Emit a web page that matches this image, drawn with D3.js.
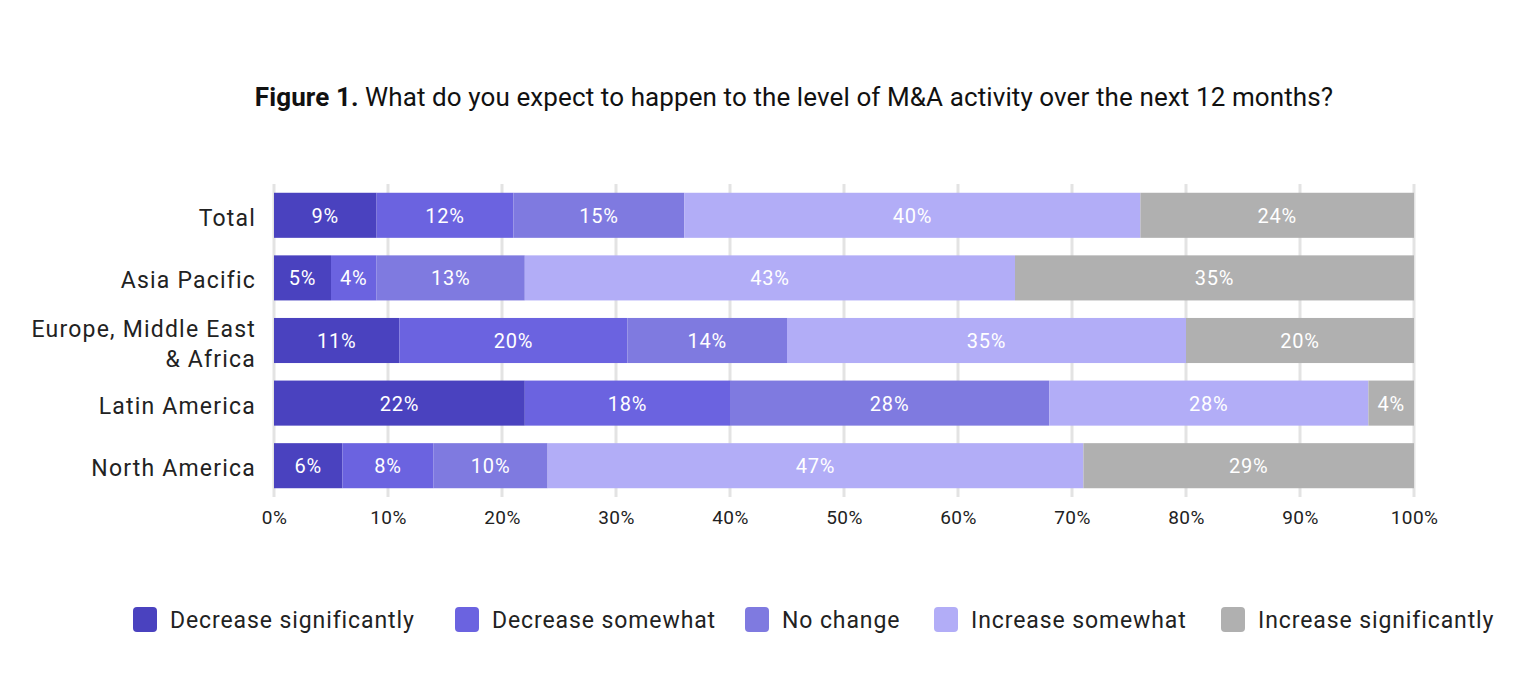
<!DOCTYPE html>
<html><head><meta charset="utf-8">
<script src="https://cdn.jsdelivr.net/npm/d3@7"></script>
<style>
body{margin:0;background:#fff;}
text{font-family:Roboto, "Noto Sans", sans-serif;}
</style></head>
<body><svg id="c" width="1518" height="695"></svg>
<script>
const categories = ["Total","Asia Pacific","Europe, Middle East & Africa","Latin America","North America"];
const seriesNames = ["Decrease significantly","Decrease somewhat","No change","Increase somewhat","Increase significantly"];
const decreaseSignificantly = [9,5,11,22,6];
const decreaseSomewhat = [12,4,20,18,8];
const noChange = [15,13,14,28,10];
const increaseSomewhat = [40,43,35,28,47];
const increaseSignificantly = [24,35,20,4,29];
const tickValues = [0,10,20,30,40,50,60,70,80,90,100];
const colors = ["#4a42bf","#6b63e0","#7f7ae0","#b2adf7","#b0b0b0"];

const series = [decreaseSignificantly,decreaseSomewhat,noChange,increaseSomewhat,increaseSignificantly];
const svg = d3.select("#c");
const x = d3.scaleLinear().domain([0,100]).range([274,1414]);
const y = d3.scaleBand().domain(categories).range([184,497]).paddingInner(0.28).paddingOuter(0.14);

// title
const title = svg.append("text").attr("x",794).attr("y",106).attr("text-anchor","middle")
  .attr("font-size",26).attr("fill","#111").attr("letter-spacing",0.1);
title.append("tspan").attr("font-weight","bold").text("Figure 1.");
title.append("tspan").text(" What do you expect to happen to the level of M&A activity over the next 12 months?");

// gridlines
svg.append("g").selectAll("line").data(tickValues).join("line")
  .attr("x1",d=>x(d)).attr("x2",d=>x(d)).attr("y1",184).attr("y2",497)
  .attr("stroke","#e3e3e3").attr("stroke-width",3);

// bars
const stackData = categories.map((c,i)=>{const o={cat:c}; seriesNames.forEach((s,j)=>o[s]=series[j][i]); return o;});
const stacked = d3.stack().keys(seriesNames)(stackData);
const g = svg.append("g");
stacked.forEach((layer,j)=>{
  const lg = g.append("g");
  lg.selectAll("rect").data(layer).join("rect")
    .attr("x",d=>x(d[0])).attr("width",d=>x(d[1])-x(d[0]))
    .attr("y",d=>y(d.data.cat)).attr("height",y.bandwidth())
    .attr("fill",colors[j]);
  lg.selectAll("text").data(layer).join("text")
    .attr("x",d=>(x(d[0])+x(d[1]))/2).attr("y",d=>y(d.data.cat)+y.bandwidth()/2+7.5)
    .attr("text-anchor","middle").attr("fill","#fff").attr("font-size",20).attr("letter-spacing",0.8)
    .text(d=>(d[1]-d[0])+"%");
});

// y labels
const yl = svg.append("g");
categories.forEach(c=>{
  const t = yl.append("text").attr("text-anchor","end").attr("font-size",23).attr("fill","#222").attr("letter-spacing",1.2);
  const cy = y(c)+y.bandwidth()/2;
  if(c==="Europe, Middle East & Africa"){
    t.append("tspan").attr("x",256).attr("y",cy-4).text("Europe, Middle East");
    t.append("tspan").attr("x",256).attr("y",cy+26).text("& Africa");
  } else {
    t.attr("x",256).attr("y",cy+10.5).text(c);
  }
});

// x axis labels
const xa = d3.axisBottom(x).tickValues(tickValues).tickFormat(d=>d+"%").tickSize(0).tickPadding(0);
const axG = svg.append("g").attr("transform","translate(0,510)").call(xa);
axG.select(".domain").remove();
axG.selectAll("text").attr("font-size",19).attr("fill","#222").attr("font-family","Roboto").attr("letter-spacing",0.4);

// legend
const legendX = [133,455,745,934,1221];
const lg = svg.append("g");
seriesNames.forEach((s,i)=>{
  lg.append("rect").attr("x",legendX[i]).attr("y",607).attr("width",24).attr("height",25).attr("rx",4).attr("fill",colors[i]);
  lg.append("text").attr("x",legendX[i]+37).attr("y",628).attr("font-size",23).attr("fill","#222").attr("letter-spacing",0.9).text(s);
});
</script></body></html>
